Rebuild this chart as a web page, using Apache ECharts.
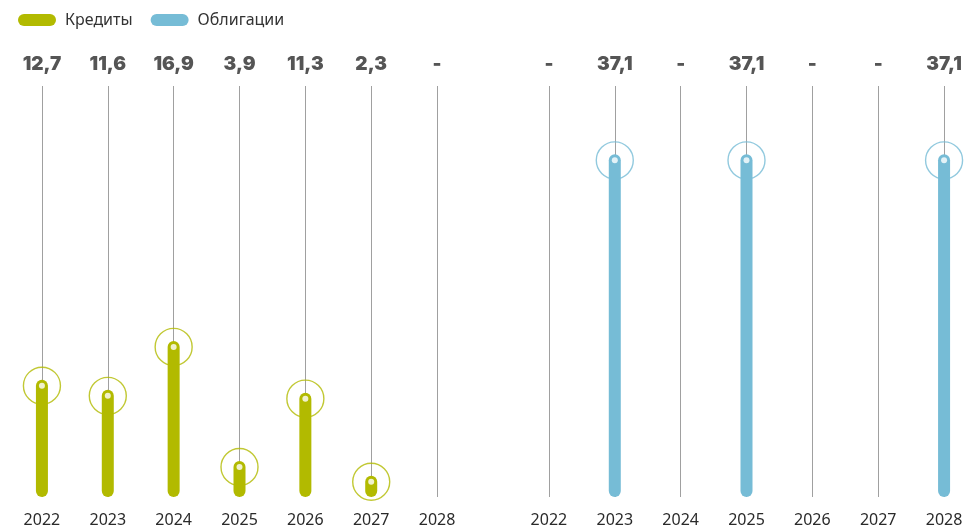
<!DOCTYPE html>
<html><head><meta charset="utf-8">
<script src="https://cdn.jsdelivr.net/npm/echarts@6/dist/echarts.min.js"></script>
<style>html,body{margin:0;padding:0;background:#fff}#c{width:966px;height:532px}</style>
</head><body><div id="c"></div>
<script>
const categories = ['2022','2023','2024','2025','2026','2027','2028'];
const loans = [12.7, 11.6, 16.9, 3.9, 11.3, 2.3, null];
const bonds = [null, 37.1, null, 37.1, null, null, 37.1];
const loanName = 'Кредиты';
const bondName = 'Облигации';
const GREEN = '#b2ba00';
const BLUE = '#76bcd6';
const fmt = v => v == null ? '-' : String(v).replace('.', ',');

const pill = 'path://M6,0 L32,0 A6,6 0 0 1 32,12 L6,12 A6,6 0 0 1 6,0 Z';

function panelSeries(name, data, color, idx) {
  return [
    {
      name: name + ' ring', type: 'scatter', xAxisIndex: idx * 2, yAxisIndex: idx,
      data: data, symbol: 'circle', symbolSize: 37, symbolOffset: [0, 6], z: 1,
      itemStyle: { color: 'rgba(255,255,255,0)', borderColor: color, borderWidth: 1.4 },
      silent: true,
      markLine: {
        silent: true, symbol: 'none', z: 1,
        label: { show: false },
        lineStyle: { color: '#a0a0a0', width: 1, type: 'solid' },
        data: categories.map(c => ({ xAxis: c }))
      }
    },
    {
      name: name, type: 'bar', xAxisIndex: idx * 2, yAxisIndex: idx,
      data: data, barWidth: 12, z: 2,
      itemStyle: { color: color, borderRadius: 6 }
    },
    {
      name: name + ' dot', type: 'scatter', xAxisIndex: idx * 2, yAxisIndex: idx,
      data: data, symbol: 'circle', symbolSize: 6, symbolOffset: [0, 6], z: 3,
      itemStyle: { color: '#ffffff' }, silent: true
    }
  ];
}

function xAxes(gridIndex, data) {
  return [
    {
      type: 'category', gridIndex: gridIndex, data: categories, position: 'bottom',
      axisLine: { show: false }, axisTick: { show: false }, splitLine: { show: false },
      axisLabel: { margin: 15, fontSize: 16, color: '#2a2a2a', fontFamily: 'Noto Sans' }
    },
    {
      type: 'category', gridIndex: gridIndex, data: categories, position: 'top',
      axisLine: { show: false }, axisTick: { show: false }, splitLine: { show: false },
      axisLabel: {
        margin: 12, fontSize: 19, color: '#555555', fontWeight: 900, fontFamily: 'Inter',
        formatter: (v, i) => fmt(data[i])
      }
    }
  ];
}

const chart = echarts.init(document.getElementById('c'));
chart.setOption({
  backgroundColor: '#ffffff',
  animation: false,
  legend: {
    left: 13, top: 7, itemWidth: 38, itemHeight: 12, itemGap: 18,
    data: [{ name: loanName, icon: pill }, { name: bondName, icon: pill }],
    textStyle: { fontSize: 16, color: '#333333', fontFamily: 'Noto Sans', padding: [0, 0, 0, 4] }
  },
  grid: [
    { left: 9, width: 461, top: 86, bottom: 35, outerBoundsMode: 'none', containLabel: false },
    { left: 516, width: 461, top: 86, bottom: 35, outerBoundsMode: 'none', containLabel: false }
  ],
  xAxis: [].concat(xAxes(0, loans), xAxes(1, bonds)),
  yAxis: [
    { type: 'value', gridIndex: 0, min: 0, max: 44.5, show: false },
    { type: 'value', gridIndex: 1, min: 0, max: 44.5, show: false }
  ],
  series: [].concat(panelSeries(loanName, loans, GREEN, 0), panelSeries(bondName, bonds, BLUE, 1))
});
</script>
</body></html>
